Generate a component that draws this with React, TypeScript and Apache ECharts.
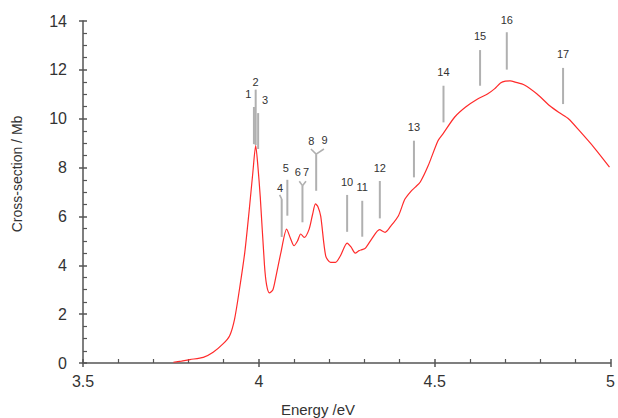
import React, { useEffect, useRef } from "react";
import * as echarts from "echarts";

// Photo-absorption cross-section curve
const energy = [
  3.757, 3.78, 3.804, 3.842, 3.87, 3.898, 3.917, 3.931, 3.945, 3.96, 3.972, 3.983, 3.991, 3.997,
  4.004, 4.016, 4.022, 4.03, 4.04, 4.049, 4.063, 4.079, 4.09, 4.1, 4.11, 4.119, 4.129, 4.143,
  4.153, 4.161, 4.168, 4.176, 4.19, 4.204, 4.218, 4.232, 4.251, 4.262, 4.274, 4.285, 4.293,
  4.303, 4.321, 4.343, 4.359, 4.375, 4.397, 4.415, 4.433, 4.445, 4.459, 4.481, 4.509, 4.523,
  4.557, 4.588, 4.622, 4.65, 4.67, 4.687, 4.701, 4.715, 4.729, 4.755, 4.791, 4.828, 4.856,
  4.881, 4.912, 4.952, 4.997,
];
const crossSection = [
  0.03, 0.08, 0.14, 0.23, 0.44, 0.78, 1.12, 1.8, 3.03, 4.53, 6.17, 7.81, 8.9, 8.1,
  6.8, 4.0, 3.2, 2.87, 3.0, 3.57, 4.54, 5.48, 5.1, 4.8, 5.0, 5.28, 5.14, 5.48,
  6.1, 6.51, 6.4, 6.0, 4.39, 4.12, 4.12, 4.39, 4.91, 4.75, 4.5, 4.6, 4.64,
  4.7, 5.08, 5.46, 5.35, 5.6, 6.03, 6.7, 7.04, 7.2, 7.41, 8.06, 9.09, 9.37,
  10.07, 10.48, 10.81, 11.01, 11.22, 11.46, 11.54, 11.55, 11.5, 11.38, 11.01, 10.52, 10.23,
  9.99, 9.5, 8.84, 8.02,
];

// Numbered band labels
const labelText = ["1", "2", "3", "4", "5", "6", "7", "8", "9", "10", "11", "12", "13", "14", "15", "16", "17"];
const labelEnergy = [3.97, 3.991, 4.018, 4.06, 4.077, 4.111, 4.134, 4.149, 4.187, 4.251, 4.294, 4.344, 4.441, 4.525, 4.629, 4.705, 4.865];
const labelValue = [11.01, 11.51, 10.77, 7.15, 7.97, 7.83, 7.83, 9.1, 9.13, 7.42, 7.19, 7.99, 9.65, 11.9, 13.4, 14.04, 12.65];

// Marker lines (vertical ticks) with optional forks at the top
const markerEnergy = [3.986, 3.991, 3.998, 4.065, 4.081, 4.124, 4.163, 4.251, 4.294, 4.344, 4.441, 4.525, 4.629, 4.705, 4.865];
const markerLow = [8.96, 8.92, 8.76, 5.16, 6.03, 5.76, 7.05, 5.37, 5.17, 5.92, 7.6, 9.85, 11.35, 12.01, 10.6];
const markerHigh = [10.48, 11.19, 10.23, 6.71, 7.5, 7.26, 8.55, 6.88, 6.64, 7.45, 9.1, 11.35, 12.81, 13.54, 12.08];
const forkLeft = [null, null, null, 4.059, null, 4.115, 4.148, null, null, null, null, null, null, null, null];
const forkRight = [null, null, null, null, null, 4.134, 4.185, null, null, null, null, null, null, null, null];
const forkTop = [null, null, null, 6.88, null, 7.44, 8.76, null, null, null, null, null, null, null, null];

const FONT = "'Liberation Sans', Arial, Helvetica, sans-serif";
const AXIS_COLOR = "#555";
const MARK_COLOR = "#b0b0b0";

export default function App() {
  const ref = useRef<HTMLDivElement>(null);

  useEffect(() => {
    if (!ref.current) return;
    const chart = echarts.init(ref.current, null, { renderer: "svg" });

    const axisLineStyle = { color: AXIS_COLOR, width: 1.5 };

    const option: any = {
      animation: false,
      backgroundColor: "#fff",
      grid: { left: 83, right: 4, top: 21, bottom: 55, containLabel: false },
      xAxis: [
        {
          type: "value",
          min: 3.5,
          max: 5,
          interval: 0.5,
          axisLine: { show: true, onZero: false, lineStyle: axisLineStyle },
          axisTick: { show: true, inside: true, length: 4, lineStyle: axisLineStyle },
          minorTick: { show: true, splitNumber: 5, length: 4, lineStyle: { color: AXIS_COLOR, width: 1.2 } },
          axisLabel: { color: "#333", fontSize: 16, fontFamily: FONT, margin: 10 },
          splitLine: { show: false },
        },
        {
          type: "value",
          min: 3.5,
          max: 5,
          interval: 0.5,
          position: "bottom",
          axisLine: { show: false, onZero: false },
          axisTick: { show: true, inside: false, length: 4, lineStyle: axisLineStyle },
          axisLabel: { show: false },
          splitLine: { show: false },
        },
      ],
      yAxis: [
        {
          type: "value",
          min: 0,
          max: 14,
          interval: 2,
          axisLine: { show: true, onZero: false, lineStyle: axisLineStyle },
          axisTick: { show: true, inside: true, length: 4, lineStyle: axisLineStyle },
          minorTick: { show: true, splitNumber: 4, length: 4, lineStyle: { color: AXIS_COLOR, width: 1.2 } },
          axisLabel: { color: "#333", fontSize: 16, fontFamily: FONT, margin: 16 },
          splitLine: { show: false },
        },
        {
          type: "value",
          min: 0,
          max: 14,
          interval: 2,
          position: "left",
          axisLine: { show: false, onZero: false },
          axisTick: { show: true, inside: false, length: 4, lineStyle: axisLineStyle },
          axisLabel: { show: false },
          splitLine: { show: false },
        },
      ],
      graphic: [
        {
          type: "text",
          x: 318,
          y: 409,
          style: {
            text: "Energy /eV",
            fontSize: 15,
            fontFamily: FONT,
            fill: "#333",
            textAlign: "center",
            textVerticalAlign: "middle",
          },
        },
        {
          type: "text",
          x: 17,
          y: 174,
          rotation: Math.PI / 2,
          style: {
            text: "Cross-section / Mb",
            fontSize: 14,
            fontFamily: FONT,
            fill: "#333",
            textAlign: "center",
            textVerticalAlign: "middle",
          },
        },
      ],
      series: [
        {
          type: "custom",
          name: "markers",
          xAxisIndex: 0,
          yAxisIndex: 0,
          clip: false,
          silent: true,
          data: markerEnergy.map((e, i) => [e, markerLow[i], markerHigh[i]]),
          encode: { x: 0, y: [1, 2] },
          renderItem: (params: any, api: any) => {
            const i = params.dataIndex;
            const e = markerEnergy[i];
            const p0 = api.coord([e, markerLow[i]]);
            const p1 = api.coord([e, markerHigh[i]]);
            const style = { stroke: MARK_COLOR, lineWidth: 2 };
            const children: any[] = [
              { type: "line", shape: { x1: p0[0], y1: p0[1], x2: p1[0], y2: p1[1] }, style },
            ];
            const tipV = forkTop[i];
            if (tipV != null) {
              const l = forkLeft[i];
              const r = forkRight[i];
              if (l != null) {
                const t = api.coord([l, tipV]);
                children.push({
                  type: "line",
                  shape: { x1: p1[0], y1: p1[1], x2: t[0], y2: t[1] },
                  style: { stroke: MARK_COLOR, lineWidth: 1.6 },
                });
              }
              if (r != null) {
                const t = api.coord([r, tipV]);
                children.push({
                  type: "line",
                  shape: { x1: p1[0], y1: p1[1], x2: t[0], y2: t[1] },
                  style: { stroke: MARK_COLOR, lineWidth: 1.6 },
                });
              }
            }
            return { type: "group", children };
          },
          z: 2,
        },
        {
          type: "custom",
          name: "labels",
          xAxisIndex: 0,
          yAxisIndex: 0,
          clip: false,
          silent: true,
          data: labelEnergy.map((e, i) => [e, labelValue[i]]),
          encode: { x: 0, y: 1 },
          renderItem: (params: any, api: any) => {
            const i = params.dataIndex;
            const p = api.coord([labelEnergy[i], labelValue[i]]);
            return {
              type: "text",
              x: p[0],
              y: p[1],
              style: {
                text: labelText[i],
                fontSize: 11,
                fontFamily: FONT,
                fill: "#333",
                textAlign: "center",
                textVerticalAlign: "middle",
              },
            };
          },
          z: 3,
        },
        {
          type: "line",
          name: "cross-section",
          xAxisIndex: 0,
          yAxisIndex: 0,
          data: energy.map((e, i) => [e, crossSection[i]]),
          showSymbol: false,
          symbol: "none",
          smooth: 0.25,
          lineStyle: { color: "#ff2b2b", width: 1.2 },
          z: 4,
        },
      ],
    };

    chart.setOption(option);
    return () => {
      chart.dispose();
    };
  }, []);

  return (
    <div
      ref={ref}
      style={{ position: "fixed", left: 0, top: 0, width: 618, height: 418, background: "#fff" }}
    />
  );
}
